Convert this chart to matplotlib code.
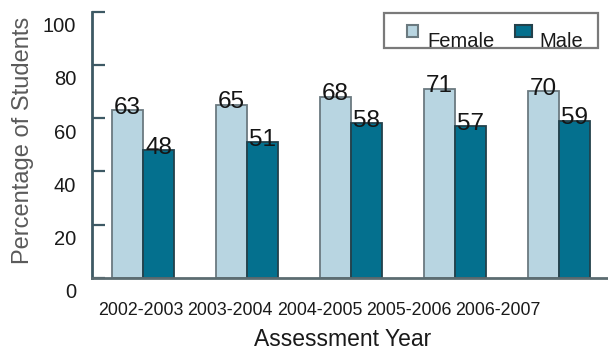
import matplotlib
matplotlib.use('Agg')
import matplotlib.pyplot as plt
import matplotlib.transforms as mtransforms
from matplotlib.patches import Rectangle
import numpy as np

# ---- data ----
years = ['2002-2003', '2003-2004', '2004-2005', '2005-2006', '2006-2007']
female = [63, 65, 68, 71, 70]
male = [48, 51, 58, 57, 59]
yticks = [0, 20, 40, 60, 80, 100]
series_names = ['Female', 'Male']

plt.rcParams['font.family'] = ['Liberation Sans', 'DejaVu Sans']

W, H = 608, 351
fig = plt.figure(figsize=(W / 100, H / 100), dpi=100)


def fx(px):
    return px / W


def fy(py):
    return 1 - py / H


ax = fig.add_axes([fx(92), fy(278), fx(608) - fx(92), fy(11.5) - fy(278)])
x = np.arange(len(years))
bw = 0.30
c_f, e_f = '#b8d5e1', '#6b7a80'
c_m, e_m = '#04708e', '#23414b'
ax.bar(x - bw / 2, female, bw, color=c_f, edgecolor=e_f, linewidth=1.3, zorder=2)
ax.bar(x + bw / 2, male, bw, color=c_m, edgecolor=e_m, linewidth=1.3, zorder=2)
ax.set_xlim(-0.49, 4.47)
ax.set_ylim(0, 100)

# value labels
off = mtransforms.ScaledTranslation(0, 2.5 / 100, fig.dpi_scale_trans)
for xs, vals in ((x - bw / 2, female), (x + bw / 2, male)):
    for xi, v in zip(xs, vals):
        ax.text(xi, v, str(v), ha='center', va='center', fontsize=17.5,
                color='#151515', transform=ax.transData + off, zorder=4)

# spines
for s in ('top', 'right'):
    ax.spines[s].set_visible(False)
ax.spines['left'].set_color('#3d5964')
ax.spines['left'].set_linewidth(2.0)
ax.spines['bottom'].set_color('#5c6c71')
ax.spines['bottom'].set_linewidth(2.0)
ax.spines['bottom'].set_zorder(3)

# y ticks
ax.set_yticks(yticks)
ax.set_yticklabels([str(t) for t in yticks])
ax.tick_params(axis='y', direction='in', length=9.4, width=1.6, color='#3d5964',
               pad=11.5, labelsize=14.5, labelcolor='#1a1a1a')
ydown = mtransforms.ScaledTranslation(0, -13 / 100, fig.dpi_scale_trans)
for lab in ax.get_yticklabels():
    lab.set_transform(lab.get_transform() + ydown)

# x ticks (labels spaced independently of the bar groups, as in the source)
label_pos = np.arange(len(years)) * 0.858 - 0.02
ax.set_xticks(label_pos)
ax.set_xticklabels(years)
ax.tick_params(axis='x', length=0, pad=17.0, labelsize=12.8, labelcolor='#1a1a1a')

ax.set_ylabel('Percentage of Students', fontsize=17, color='#5a5a5a', va='center')
ax.yaxis.set_label_coords((23 - 92) / 516, (278 - 140) / 266.5)
ax.set_xlabel('Assessment Year', fontsize=16.5, color='#1a1a1a', va='center')
ax.xaxis.set_label_coords((343 - 92) / 516, (278 - 340) / 266.5)

# legend (drawn by hand to match the source's layout)
tf = fig.transFigure
fig.add_artist(Rectangle((fx(384), fy(48)), fx(598) - fx(384), fy(13) - fy(48),
                         transform=tf, facecolor='white', edgecolor='#7a7a7a',
                         linewidth=1.6, zorder=5))
fig.add_artist(Rectangle((fx(407), fy(37)), fx(418) - fx(407), fy(25) - fy(37),
                         transform=tf, facecolor=c_f, edgecolor=e_f,
                         linewidth=1.5, zorder=6))
fig.add_artist(Rectangle((fx(515), fy(37)), fx(532) - fx(515), fy(25) - fy(37),
                         transform=tf, facecolor=c_m, edgecolor=e_m,
                         linewidth=1.5, zorder=6))
fig.text(fx(427), fy(47), series_names[0], ha='left', va='baseline',
         fontsize=14.5, color='#1a1a1a', zorder=7)
fig.text(fx(539), fy(47), series_names[1], ha='left', va='baseline',
         fontsize=14.5, color='#1a1a1a', zorder=7)

fig.savefig('out.png', dpi=100)
